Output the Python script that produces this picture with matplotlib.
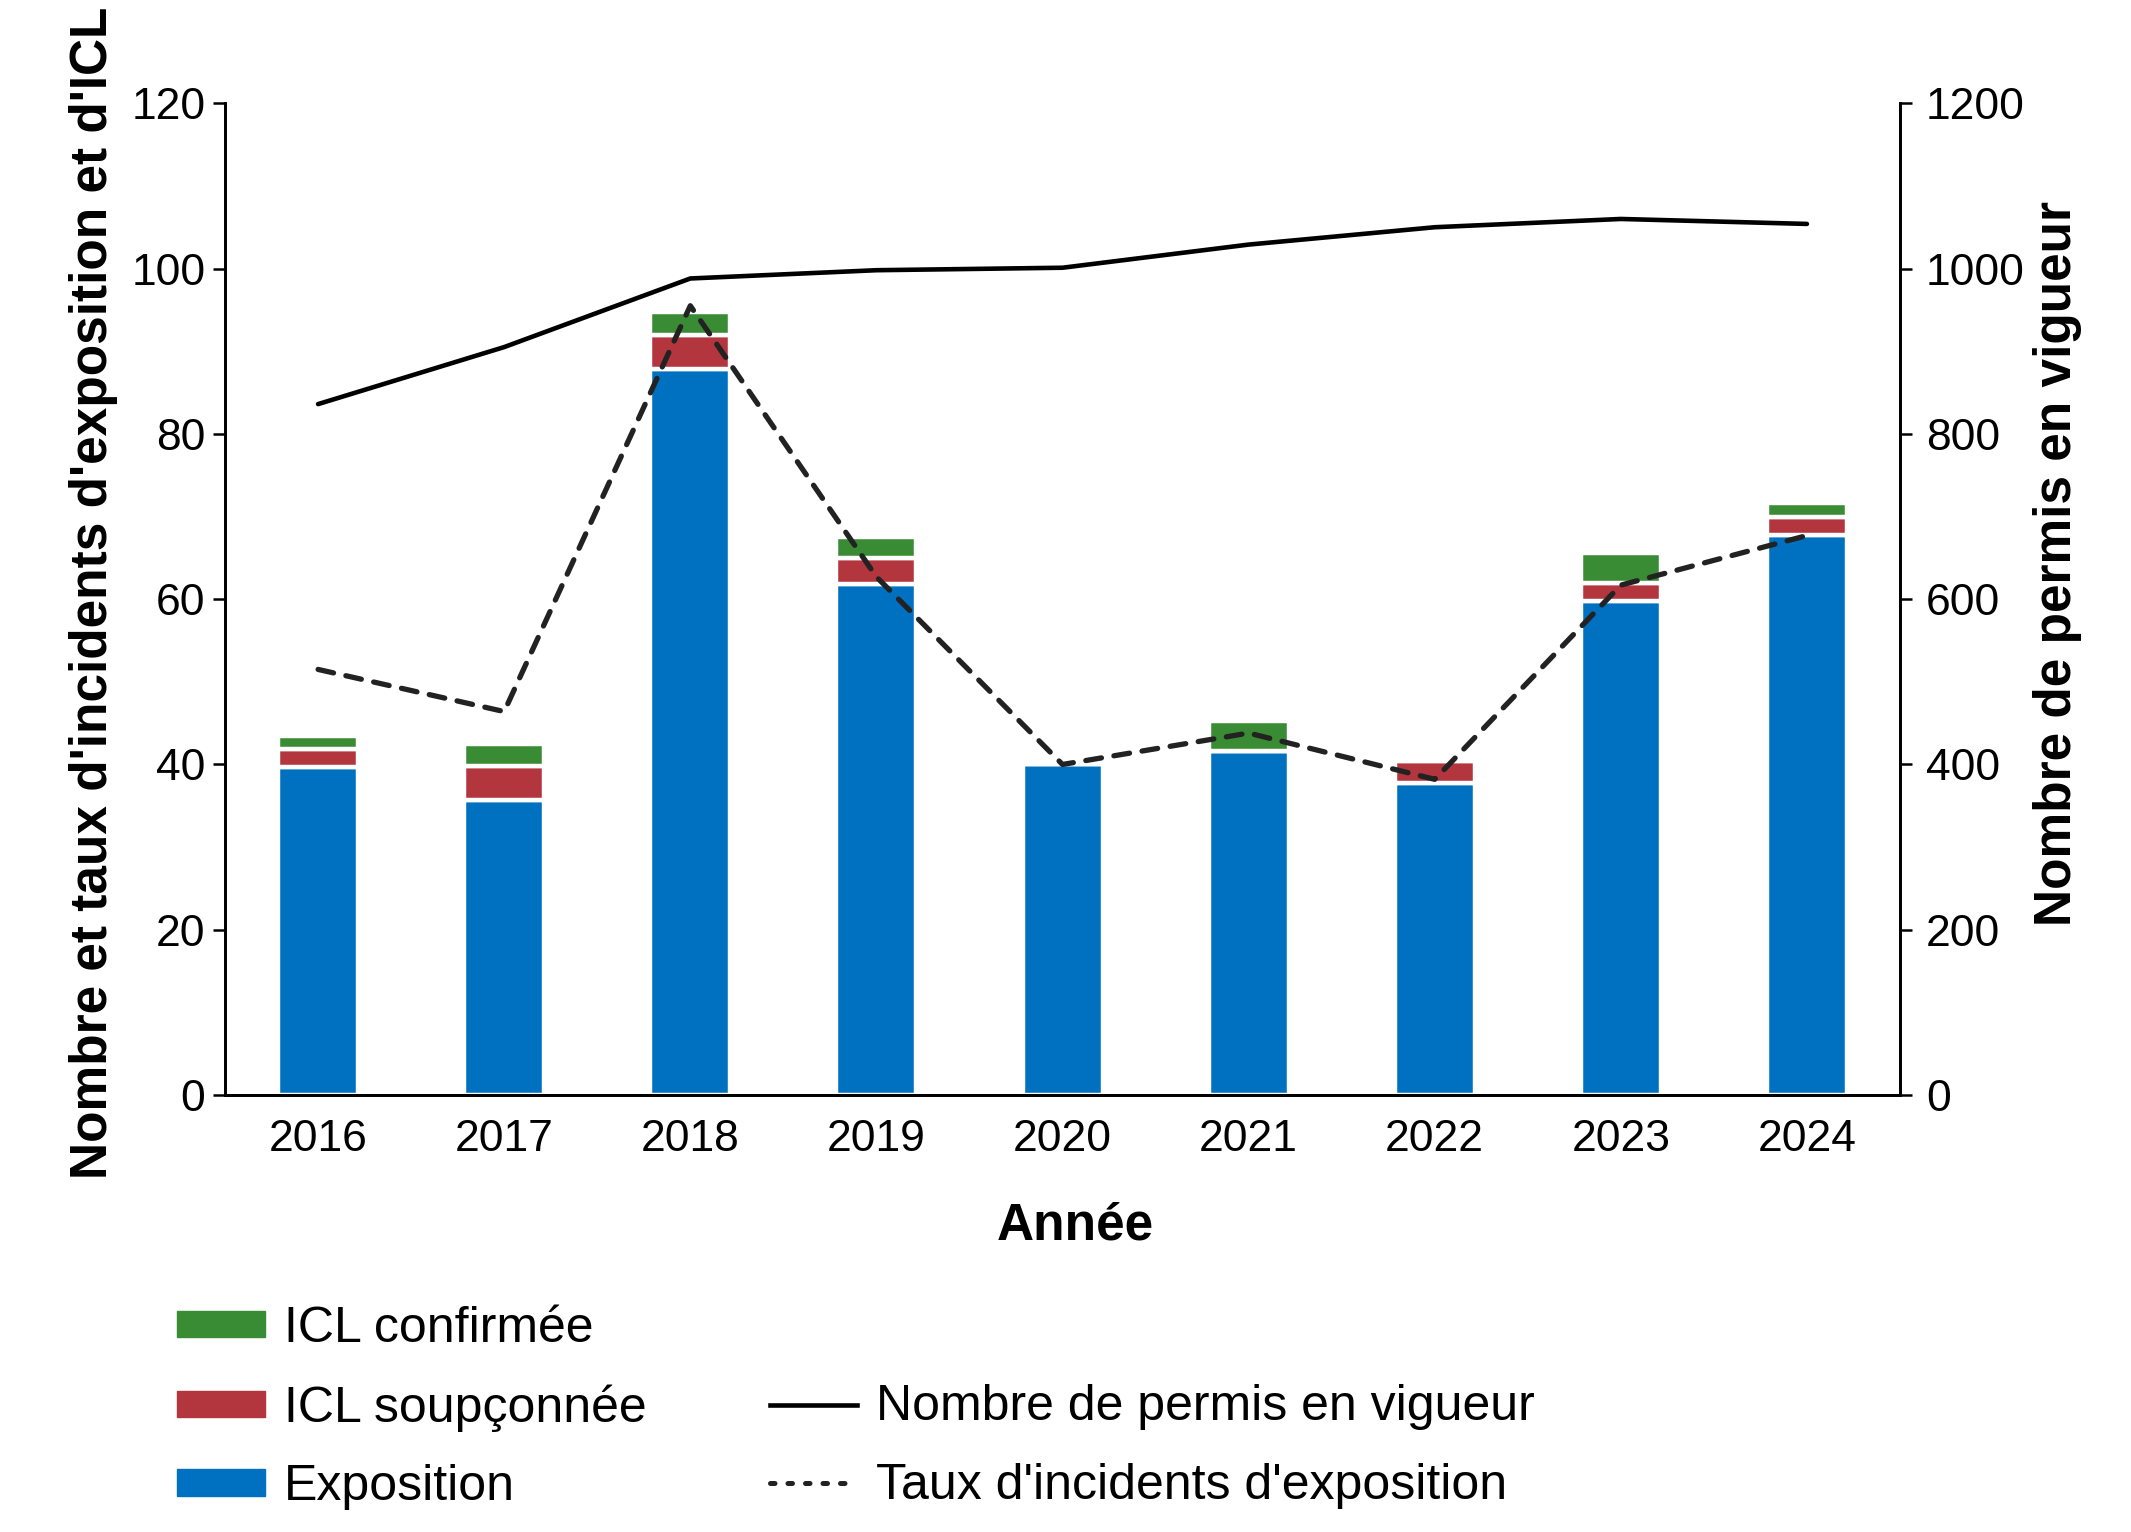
import matplotlib
matplotlib.use("Agg")
import matplotlib.pyplot as plt
from matplotlib.patches import Patch
from matplotlib.lines import Line2D

# données
years = ["2016", "2017", "2018", "2019", "2020", "2021", "2022", "2023", "2024"]
exposition = [39.7, 35.7, 87.85, 61.8, 40.1, 41.65, 37.7, 59.75, 67.8]
icl_soupconnee = [2.15, 4.15, 4.15, 3.17, 0, 0, 2.7, 2.15, 2.1]
icl_confirmee = [1.65, 2.65, 2.7, 2.6, 0, 3.65, 0, 3.7, 1.7]
taux_exposition = [51.5, 46.4, 95.5, 62.7, 40.0, 43.8, 38.2, 61.7, 67.7]
permis_vigueur = [836, 905, 988, 998, 1001, 1029, 1050, 1060, 1054]

BLUE = "#0070C0"
RED = "#B3353D"
GREEN = "#3A8C34"
DASH = "#222222"

plt.rcParams["font.family"] = ["Liberation Sans Narrow", "Liberation Sans"]
LABEL_FONT = "Liberation Sans"

fig = plt.figure(figsize=(21.31, 15.32), dpi=100)
ax = fig.add_axes([0.1056, 0.2852, 0.7860, 0.6474])

x = list(range(len(years)))
bar_kw = dict(width=0.43, edgecolor="white", linewidth=3.2, zorder=2)
ax.bar(x, exposition, color=BLUE, **bar_kw)
ax.bar(x, icl_soupconnee, bottom=exposition, color=RED, **bar_kw)
bottom_conf = [a + b for a, b in zip(exposition, icl_soupconnee)]
ax.bar(x, icl_confirmee, bottom=bottom_conf, color=GREEN, **bar_kw)

dash_style = (0, (3.0, 2.4))
ax.plot(x, taux_exposition, color=DASH, lw=3.8, linestyle=dash_style,
        dash_capstyle="round", zorder=3)

ax2 = ax.twinx()
ax2.plot(x, permis_vigueur, color="black", lw=3.3, solid_capstyle="round")

ax.set_xlim(-0.5, 8.5)
ax.set_ylim(0, 120)
ax2.set_ylim(0, 1200)
ax.set_xticks(x)
ax.set_xticklabels(years)
ax.set_yticks(range(0, 121, 20))
ax2.set_yticks(range(0, 1201, 200))

for a in (ax, ax2):
    a.spines["top"].set_visible(False)
    for s in ("left", "right", "bottom"):
        a.spines[s].set_linewidth(2.0)

ax.tick_params(axis="y", length=8.6, width=1.8, labelsize=32, pad=5.5)
ax.tick_params(axis="x", length=0, labelsize=32, pad=17)
ax2.tick_params(axis="y", length=8.6, width=1.8, labelsize=32, pad=10)

# titres des axes
fig.text(0.0440, 0.613, "Nombre et taux d'incidents d'exposition et d'ICL",
         rotation=90, ha="center", va="center", fontsize=37,
         fontweight="bold", family=LABEL_FONT)
fig.text(0.9653, 0.632, "Nombre de permis en vigueur",
         rotation=90, ha="center", va="center", fontsize=37,
         fontweight="bold", family=LABEL_FONT)
fig.text(0.5045, 0.1912, "Année", ha="center", va="baseline", fontsize=37,
         fontweight="bold", family=LABEL_FONT)

# légende
handles = [
    Patch(color=GREEN), Patch(color=RED), Patch(color=BLUE),
    Line2D([], [], linestyle="none"),
    Line2D([], [], color="black", lw=3.3),
    Line2D([], [], color=DASH, lw=3.6, linestyle=(0, (0.9, 2.6)),
           dash_capstyle="round"),
]
labels = ["ICL confirmée", "ICL soupçonnée", "Exposition", "",
          "Nombre de permis en vigueur", "Taux d'incidents d'exposition"]
fig.legend(handles, labels, ncol=2, loc="upper left",
           bbox_to_anchor=(177 / 2131, 1 - 1306 / 1532), frameon=False,
           borderpad=0, borderaxespad=0,
           prop={"family": LABEL_FONT, "size": 36},
           handlelength=1.75, handleheight=0.44, handletextpad=0.38,
           columnspacing=2.47, labelspacing=0.65)

fig.savefig("out.png", dpi=100)
